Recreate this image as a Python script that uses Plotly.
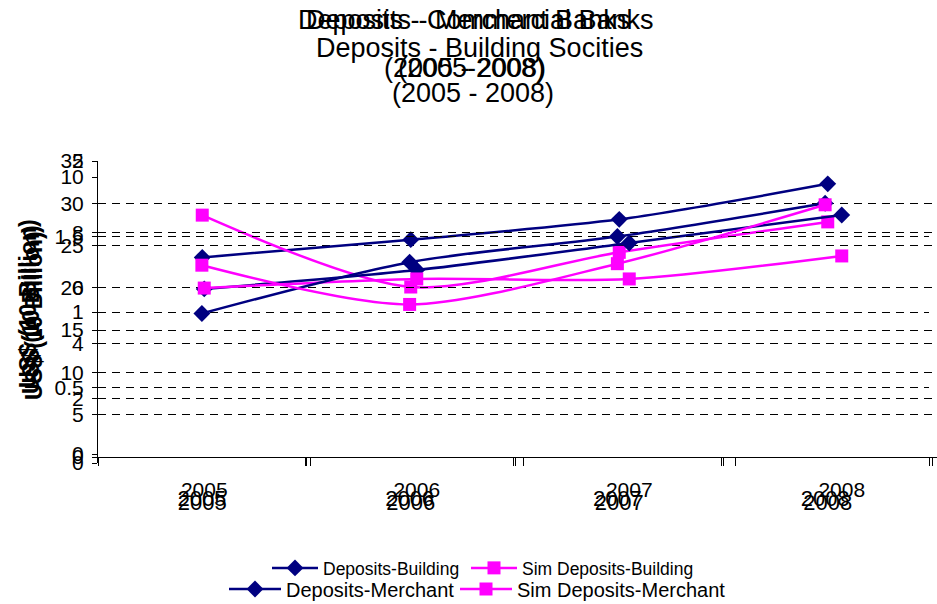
import plotly.graph_objects as go

W, H = 937, 604
years = ["2005", "2006", "2007", "2008"]

# Chart A: Commercial Banks (US$ 10 Billion), axis 0-35
dep_commercial = [23.6, 25.7, 28.1, 32.3]
sim_commercial = [28.6, 20.1, 24.2, 27.8]
# Chart B: Building Societies, axis 0-10
dep_building = [5.96, 6.64, 7.62, 8.63]
sim_building = [5.99, 6.32, 6.32, 7.15]
# Chart C: Merchant Banks, axis 0-2
dep_merchant = [0.99, 1.33, 1.50, 1.72]
sim_merchant = [1.31, 1.05, 1.32, 1.71]

yticks_a = [0, 5, 10, 15, 20, 25, 30, 35]
yticks_b = [0, 2, 4, 6, 8, 10]
yticks_c = [0, 0.5, 1, 1.5, 2]

NAVY = "#000080"
MAG = "#FF00FF"
FONT = "Liberation Sans, Arial, sans-serif"

def px_x(p):
    return p / W

def px_y(p):
    return 1 - p / H

fig = go.Figure()

def add_pair(dep, sim, xa, ya, name_dep, name_sim, leg_dep, leg_sim, show):
    fig.add_trace(go.Scatter(
        x=years, y=dep, xaxis=xa, yaxis=ya, name=name_dep, mode="lines+markers",
        line=dict(color=NAVY, width=2.5, shape="spline", smoothing=0.8),
        marker=dict(symbol="diamond", size=13, color=NAVY),
        legend=leg_dep, showlegend=show))
    fig.add_trace(go.Scatter(
        x=years, y=sim, xaxis=xa, yaxis=ya, name=name_sim, mode="lines+markers",
        line=dict(color=MAG, width=2.5, shape="spline", smoothing=0.8),
        marker=dict(symbol="square", size=13, color=MAG),
        legend=leg_sim, showlegend=show))

add_pair(dep_commercial, sim_commercial, "x", "y", "Deposits-Commercial", "Sim Deposits-Commercial",
         "legend", "legend", False)
add_pair(dep_building, sim_building, "x2", "y2", "Deposits-Building", "Sim Deposits-Building",
         "legend", "legend2", True)
add_pair(dep_merchant, sim_merchant, "x3", "y3", "Deposits-Merchant", "Sim Deposits-Merchant",
         "legend3", "legend4", True)

def xaxis(dom, rng, standoff, size):
    return dict(domain=dom, type="category", range=rng, showline=True, linecolor="black",
                linewidth=1, ticks="outside", ticklen=8, tickcolor="black", tickson="boundaries",
                showgrid=False, tickfont=dict(family=FONT, size=size, color="black"),
                ticklabelstandoff=standoff, fixedrange=True)

def yaxis(dom, rng, tickvals, anchor):
    return dict(domain=dom, range=rng, tickvals=tickvals, showline=True, linecolor="black",
                linewidth=1, ticks="outside", ticklen=5, tickcolor="black",
                showgrid=True, gridcolor="black", gridwidth=1, griddash="8px,6px",
                zeroline=False, tickfont=dict(family=FONT, size=21, color="black"),
                ticklabelstandoff=4, anchor=anchor, fixedrange=True)

def legend(xp, yp, size, iw):
    return dict(orientation="h", x=px_x(xp), y=px_y(yp), yanchor="middle", xanchor="left",
                font=dict(family=FONT, size=size, color="black"), bgcolor="rgba(0,0,0,0)",
                itemwidth=iw, tracegroupgap=0)

fig.update_layout(
    width=W, height=H, margin=dict(l=0, r=0, t=0, b=0, pad=0, autoexpand=False),
    paper_bgcolor="white", plot_bgcolor="rgba(0,0,0,0)",
    xaxis=xaxis([px_x(98), px_x(932)], [-0.5, 3.5], 26, 22),
    yaxis=yaxis([px_y(457), px_y(161)], [0, 35], yticks_a, "x"),
    xaxis2=xaxis([px_x(98), 1.0], [-0.5, -0.5 + 839 / 212.5], 14, 21),
    yaxis2=yaxis([px_y(454), px_y(177)], [0, 10], yticks_b, "x2"),
    xaxis3=xaxis([px_x(98), px_x(929)], [-0.5, 3.5], 22, 22),
    yaxis3=yaxis([px_y(463), px_y(161)], [0, 2], yticks_c, "x3"),
    legend=legend(267, 568, 17.5, 46),
    legend2=legend(466, 568, 17.5, 46),
    legend3=legend(224, 589, 20, 52),
    legend4=legend(455, 589, 20, 52),
    showlegend=True,
)

titles = [
    ("Deposits - Merchant Banks", 468, 20),
    ("Deposits - Commercial Banks", 476, 20),
    ("(2005 - 2008)", 465, 68),
    ("(2005-2008)", 471, 68),
    ("Deposits - Building Socities", 479, 48),
    ("(2005 - 2008)", 473, 93),
]
for t, xp, yp in titles:
    fig.add_annotation(text=t, x=px_x(xp), y=px_y(yp), xref="paper", yref="paper",
                       showarrow=False, xanchor="center", yanchor="middle",
                       font=dict(family=FONT, size=27, color="black"))

for xc, yc in [(28, 304), (31, 310), (34, 316)]:
    fig.add_annotation(text="<b>US$ (10 Billion)</b>", x=px_x(xc), y=px_y(yc), xref="paper", yref="paper",
                       showarrow=False, textangle=-90, xanchor="center", yanchor="middle",
                       font=dict(family=FONT, size=23, color="black"))

fig.write_html("out.html")
